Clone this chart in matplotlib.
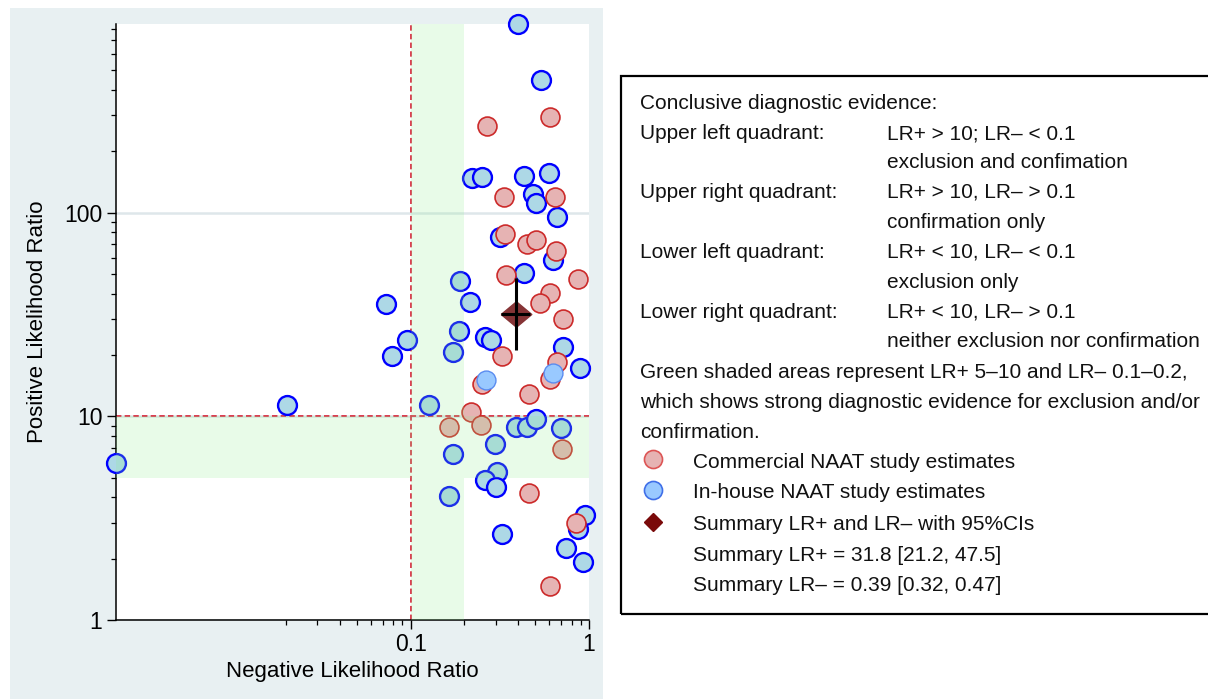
import matplotlib
matplotlib.use("Agg")
import matplotlib.pyplot as plt
from matplotlib.patches import Rectangle
from matplotlib.lines import Line2D
from matplotlib.ticker import FixedLocator, FixedFormatter, NullFormatter

plt.rcParams['font.family'] = ['Liberation Sans', 'DejaVu Sans']

# In-house NAAT study estimates (negative LR, positive LR)
inhouse_lrn = [0.398, 0.539, 0.220, 0.253, 0.430, 0.596, 0.487, 0.507, 0.659, 0.318,
               0.626, 0.434, 0.189, 0.0732, 0.215, 0.0951, 0.0789, 0.1875, 0.174, 0.260,
               0.284, 0.711, 0.891, 0.127, 0.0203, 0.389, 0.452, 0.507, 0.700, 0.298,
               0.174, 0.00222, 0.307, 0.262, 0.302, 0.164, 0.326, 0.951, 0.869, 0.747,
               0.923]
inhouse_lrp = [843, 447, 148, 150, 152, 157, 123, 112, 95.5, 76.2,
               58.7, 50.5, 46.1, 35.5, 36.4, 23.7, 19.8, 26.2, 20.6, 24.6,
               23.7, 21.9, 17.2, 11.4, 11.4, 8.87, 8.87, 9.7, 8.77, 7.32,
               6.56, 5.87, 5.31, 4.87, 4.50, 4.06, 2.63, 3.29, 2.79, 2.26,
               1.92]
# Two in-house estimates drawn in the lighter legend style
inhouse_alt_lrn = [0.625, 0.264]
inhouse_alt_lrp = [16.3, 15.0]

# Commercial NAAT study estimates (negative LR, positive LR)
commercial_lrn = [0.608, 0.267, 0.332, 0.649, 0.340, 0.447, 0.505, 0.652, 0.343, 0.869,
                  0.602, 0.531, 0.714, 0.326, 0.659, 0.608, 0.253, 0.459, 0.217, 0.164,
                  0.247, 0.703, 0.459, 0.843, 0.605]
commercial_lrp = [296, 265, 119, 119, 78.5, 70.3, 73.6, 64.9, 49.2, 47.3,
                  40.3, 35.9, 29.9, 19.7, 18.5, 15.3, 14.4, 12.9, 10.5, 8.87,
                  9.04, 6.89, 4.19, 3.01, 1.47]

# Pooled summary with 95% confidence intervals
summary_lrp = 31.8
summary_lrp_ci = (21.2, 47.5)
summary_lrn = 0.39
summary_lrn_ci = (0.32, 0.47)

# Thresholds for conclusive / strong evidence
lrp_cut, lrn_cut = 10, 0.1
lrp_band = (5, 10)
lrn_band = (0.1, 0.2)

x_major = [0.1, 1]
x_major_labels = ['0.1', '1']
x_minor = [0.02, 0.03, 0.04, 0.05, 0.06, 0.07, 0.08, 0.09,
           0.2, 0.3, 0.4, 0.5, 0.6, 0.7, 0.8, 0.9]
y_major = [1, 10, 100]
y_major_labels = ['1', '10', '100']
y_minor = [2, 3, 4, 5, 6, 7, 8, 9, 20, 30, 40, 50, 60, 70, 80, 90,
           200, 300, 400, 500, 600, 700, 800]

W, H = 1208, 699
fig = plt.figure(figsize=(W / 100, H / 100), dpi=100)
fig.patch.set_facecolor('white')


def fx(px):
    return px / W


def fy(py):
    return 1 - py / H


# graph region background
fig.patches.append(Rectangle((fx(10), 0), fx(603) - fx(10), fy(8),
                             transform=fig.transFigure, facecolor='#E8F0F2',
                             edgecolor='none', zorder=-5))

ax = fig.add_axes([fx(115.5), fy(620), fx(589) - fx(115.5), fy(24) - fy(620)])
ax.set_zorder(2)
ax.set_facecolor('white')
ax.set_xscale('log')
ax.set_yscale('log')

all_lrn = inhouse_lrn + inhouse_alt_lrn + commercial_lrn
all_lrp = inhouse_lrp + inhouse_alt_lrp + commercial_lrp
ax.set_xlim(min(all_lrn), 1)
ax.set_ylim(1, max(all_lrp))
xmin, xmax = ax.get_xlim()

ax.yaxis.grid(True, which='major', color='#DEE7EA', lw=1.8, zorder=0)
ax.set_axisbelow(True)

# reference lines
dash = (0, (3.0, 1.8))
ax.axvline(lrn_cut, color='#DA2C43', lw=1.3, ls=dash, zorder=1.5)
ax.axhline(lrp_cut, color='#DA2C43', lw=1.3, ls=dash, zorder=1.5)

# study estimates
msize = 185
ax.scatter(inhouse_lrn, inhouse_lrp, s=msize, facecolor='#ADD8E6', edgecolor='#0000FF',
           linewidth=1.7, zorder=3, clip_on=False)
ax.scatter(commercial_lrn, commercial_lrp, s=msize, facecolor='#E6B3B3', edgecolor='#CC2A2A',
           linewidth=1.2, zorder=3.2, clip_on=False)
ax.scatter(inhouse_alt_lrn, inhouse_alt_lrp, s=msize, facecolor='#99C9FF', edgecolor='#5A8CF0',
           linewidth=1.0, zorder=3.4, clip_on=False)

# green shaded areas (strong evidence), laid over the markers
green = '#90EE90'
ax.axvspan(lrn_band[0], lrn_band[1], facecolor=green, alpha=0.2, lw=0, zorder=4)
ax.fill_between([xmin, lrn_band[0]], lrp_band[0], lrp_band[1], facecolor=green,
                alpha=0.2, lw=0, zorder=4)
ax.fill_between([lrn_band[1], xmax], lrp_band[0], lrp_band[1], facecolor=green,
                alpha=0.2, lw=0, zorder=4)

# summary point with 95% CIs
diamond = [(-1.2, 0), (0, 1), (1.2, 0), (0, -1), (-1.2, 0)]
ax.plot([summary_lrn], [summary_lrp], marker=diamond, ms=22, color='#863436',
        mec='#863436', ls='none', zorder=6)
ax.errorbar([summary_lrn], [summary_lrp],
            xerr=[[summary_lrn - summary_lrn_ci[0]], [summary_lrn_ci[1] - summary_lrn]],
            yerr=[[summary_lrp - summary_lrp_ci[0]], [summary_lrp_ci[1] - summary_lrp]],
            fmt='none', ecolor='black', elinewidth=2.2, capsize=0, zorder=7)

# axes styling
for side in ('top', 'right'):
    ax.spines[side].set_visible(False)
for side in ('left', 'bottom'):
    ax.spines[side].set_color('black')
    ax.spines[side].set_linewidth(1.1)

ax.xaxis.set_major_locator(FixedLocator(x_major))
ax.xaxis.set_major_formatter(FixedFormatter(x_major_labels))
ax.xaxis.set_minor_locator(FixedLocator(x_minor))
ax.xaxis.set_minor_formatter(NullFormatter())
ax.yaxis.set_major_locator(FixedLocator(y_major))
ax.yaxis.set_major_formatter(FixedFormatter(y_major_labels))
ax.yaxis.set_minor_locator(FixedLocator(y_minor))
ax.yaxis.set_minor_formatter(NullFormatter())

ax.tick_params(which='major', length=6.5, width=1.0, labelsize=16.5, pad=3, color='black')
ax.tick_params(which='minor', length=3.5, width=0.9, color='black')

ax.set_xlabel('Negative Likelihood Ratio', fontsize=16)
ax.set_ylabel('Positive Likelihood Ratio', fontsize=16)
ax.xaxis.label.set_va('center')
ax.yaxis.label.set_va('center')
ax.xaxis.set_label_coords(0.5, (620 - 672) / 596)
ax.yaxis.set_label_coords((38 - 115.5) / 473.5, 0.5)

# explanatory key
fig.patches.append(Rectangle((fx(621), fy(614)), fx(1230) - fx(621), fy(76) - fy(614),
                             transform=fig.transFigure, facecolor='none',
                             edgecolor='black', lw=1.6, zorder=1))

fs = 15
col1, col2, col3 = 640, 887, 693
rows = [
    (col1, 109, 'Conclusive diagnostic evidence:'),
    (col1, 139, 'Upper left quadrant:'),
    (col2, 139, 'LR+ > 10; LR\u2013 < 0.1'),
    (col2, 168, 'exclusion and confimation'),
    (col1, 198, 'Upper right quadrant:'),
    (col2, 198, 'LR+ > 10, LR\u2013 > 0.1'),
    (col2, 228, 'confirmation only'),
    (col1, 258, 'Lower left quadrant:'),
    (col2, 258, 'LR+ < 10, LR\u2013 < 0.1'),
    (col2, 288, 'exclusion only'),
    (col1, 318, 'Lower right quadrant:'),
    (col2, 318, 'LR+ < 10, LR\u2013 > 0.1'),
    (col2, 347, 'neither exclusion nor confirmation'),
    (col1, 378, 'Green shaded areas represent LR+ 5\u201310 and LR\u2013 0.1\u20130.2,'),
    (col1, 408, 'which shows strong diagnostic evidence for exclusion and/or'),
    (col1, 438, 'confirmation.'),
    (col3, 468, 'Commercial NAAT study estimates'),
    (col3, 498, 'In-house NAAT study estimates'),
    (col3, 530, 'Summary LR+ and LR\u2013 with 95%CIs'),
    (col3, 561, f'Summary LR+ = {summary_lrp:.1f} [{summary_lrp_ci[0]:.1f}, {summary_lrp_ci[1]:.1f}]'),
    (col3, 591, f'Summary LR\u2013 = {summary_lrn:.2f} [{summary_lrn_ci[0]:.2f}, {summary_lrn_ci[1]:.2f}]'),
]
for x, y, s in rows:
    fig.text(fx(x), fy(y), s, fontsize=fs, va='baseline', ha='left', color='#111111')

fig.add_artist(Line2D([fx(653)], [fy(459)], marker='o', ms=13, mfc='#E6B3B3', mec='#DD5555',
                      mew=1.2, ls='none', transform=fig.transFigure))
fig.add_artist(Line2D([fx(653)], [fy(490)], marker='o', ms=13, mfc='#99C9FF', mec='#3F6FE8',
                      mew=1.2, ls='none', transform=fig.transFigure))
fig.add_artist(Line2D([fx(653)], [fy(522)], marker='D', ms=9, mfc='#7A0A0A', mec='#7A0A0A',
                      ls='none', transform=fig.transFigure))

fig.savefig('out.png', dpi=100)
